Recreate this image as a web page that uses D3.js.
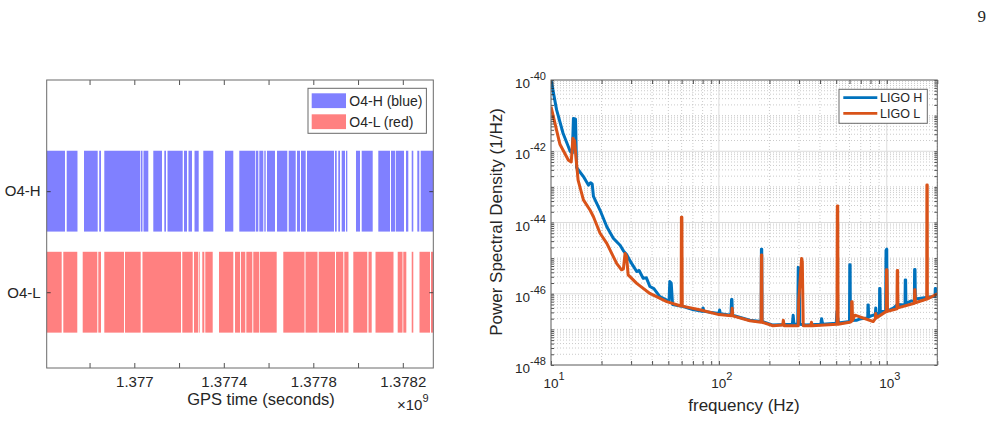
<!DOCTYPE html>
<html>
<head>
<meta charset="utf-8">
<script src="https://cdn.jsdelivr.net/npm/d3@7"></script>
<style>
body { margin: 0; background: #fff; }
svg text { font-family: "Liberation Sans", Arial, sans-serif; fill: #262626; }
</style>
</head>
<body>
<script>
var svgWidth = 997;
var svgHeight = 441;

// ---- left panel: observing segments (GPS seconds) ----
var detectors = ["O4-L", "O4-H"];
var detectorLevels = [1, 2];
var gpsRange = [1376608500, 1378336300];
var gpsTicks = [1376800000, 1377000000, 1377200000, 1377400000, 1377600000, 1377800000, 1378000000, 1378200000];
var gpsTickLabels = ["", "1.377", "", "1.3774", "", "1.3778", "", "1.3782"];

var segH = [
  [1376608500, 1376690300], [1376697900, 1376746100], [1376775200, 1376836400], [1376843100, 1376851200],
  [1376865900, 1377025500], [1377028600, 1377036600], [1377041100, 1377062600], [1377084900, 1377123800],
  [1377134100, 1377141700], [1377148400, 1377216300], [1377222100, 1377235500], [1377242200, 1377257900],
  [1377269100, 1377287800], [1377308400, 1377353100], [1377405400, 1377442500], [1377469300, 1377539400],
  [1377542600, 1377554200], [1377558700, 1377576500], [1377581000, 1377587300], [1377593100, 1377628800],
  [1377637800, 1377683800], [1377690100, 1377721300], [1377727200, 1377740600], [1377745000, 1377766000],
  [1377771800, 1377892500], [1377897000, 1377904600], [1377911700, 1377919300], [1377926900, 1377941700],
  [1377946200, 1377952000], [1377990800, 1378008700], [1378016300, 1378065500], [1378090500, 1378142800],
  [1378147300, 1378165100], [1378168300, 1378205400], [1378214300, 1378224600], [1378239800, 1378246900],
  [1378264800, 1378273800], [1378280000, 1378336300]
];
var segL = [
  [1376608500, 1376675500], [1376682700, 1376745200], [1376769400, 1376834600], [1376839100, 1376851200],
  [1376865900, 1376954000], [1376958400, 1377028600], [1377036600, 1377208700], [1377214500, 1377261000],
  [1377266800, 1377286000], [1377290500, 1377293600], [1377303900, 1377312900], [1377317300, 1377350400],
  [1377378600, 1377442500], [1377450100, 1377472400], [1377476400, 1377496100], [1377500600, 1377527400],
  [1377531800, 1377558700], [1377561800, 1377636400], [1377665900, 1377760700], [1377765100, 1377818800],
  [1377824100, 1377897000], [1377901500, 1377934100], [1377938600, 1377957300], [1377978800, 1378041300],
  [1378046700, 1378061000], [1378078000, 1378158400], [1378177200, 1378198700], [1378202200, 1378215700],
  [1378239800, 1378246900], [1378274600, 1378321600], [1378326000, 1378336300]
];

// ---- right panel: PSD, [frequency Hz, PSD 1/Hz] ----
var freqRange = [10, 2000];
var psdRange = [1e-48, 1e-40];
var freqTicks = [10, 100, 1000];
var psdTicks = [1e-40, 1e-42, 1e-44, 1e-46, 1e-48];

var psdH = [
  [10, 1.0e-40], [10.1, 7.9e-41], [10.8, 1.45e-41], [11.8, 3.2e-42], [13.0, 1.0e-42], [13.4, 8.9e-43],
  [13.6, 8.3e-42], [14.0, 7.9e-42], [14.2, 3.5e-43], [15.6, 1.95e-43], [16.7, 1.12e-43], [17.2, 1.3e-43],
  [17.6, 1.2e-43], [17.9, 5.4e-44], [19.6, 2.2e-44], [21.5, 7.6e-45], [23.5, 3.6e-45], [25.8, 2.3e-45],
  [27.0, 1.6e-45], [28.2, 1.26e-45], [30.2, 7.1e-46], [32.4, 4.2e-46], [33.5, 4.5e-46], [35.4, 2.7e-46],
  [37, 2.8e-46], [38.8, 1.6e-46], [41, 1.4e-46], [44.5, 8.3e-47], [48.9, 6.6e-47], [50.5, 6.3e-47],
  [51, 2.2e-46], [52, 2.0e-46], [53, 5.0e-47], [58, 4.6e-47], [61.4, 4.4e-47], [70, 3.6e-47],
  [79.5, 3.2e-47], [80.5, 4.0e-47], [81.5, 3.2e-47], [100, 2.8e-47], [101, 3.5e-47], [102, 2.75e-47],
  [118, 2.5e-47], [119, 6.9e-47], [119.6, 6.9e-47], [120.5, 2.5e-47], [153, 1.8e-47], [178.5, 1.66e-47],
  [179.2, 1.78e-45], [180, 1.78e-45], [180.8, 1.66e-47], [210, 1.32e-47], [270, 1.4e-47], [274, 1.4e-47],
  [277, 2.5e-47], [280, 1.4e-47], [295, 1.4e-47], [297, 5.5e-46], [301, 5.0e-46], [303, 1.4e-47],
  [330, 1.32e-47], [405, 1.4e-47], [409, 2.0e-47], [415, 1.4e-47], [500, 1.48e-47], [505, 3.2e-47],
  [515, 1.5e-47], [600, 1.66e-47], [602, 6.5e-46], [605, 6.5e-46], [607, 1.78e-47], [660, 1.8e-47],
  [700, 2.0e-47], [770, 2.1e-47], [773, 4.8e-47], [776, 4.8e-47], [780, 2.24e-47], [830, 2.5e-47],
  [855, 2.6e-47], [860, 4.0e-47], [865, 2.7e-47], [905, 2.8e-47], [907, 1.4e-46], [911, 1.4e-46],
  [915, 3.2e-47], [985, 3.2e-47], [990, 1.66e-45], [1000, 1.78e-45], [1005, 3.5e-47], [1035, 3.5e-47],
  [1100, 4.0e-47], [1158, 5.0e-47], [1285, 4.8e-47], [1289, 2.45e-46], [1295, 2.45e-46], [1300, 5.4e-47],
  [1400, 6.3e-47], [1460, 6.0e-47], [1465, 4.8e-46], [1473, 4.8e-46], [1480, 7.1e-47], [1720, 7.9e-47],
  [1940, 8.5e-47], [1946, 1.4e-46], [1954, 1.4e-46], [1960, 1.0e-46], [2000, 1.12e-46]
];
var psdL = [
  [10, 1.78e-41], [11.3, 1.58e-42], [12.7, 5.6e-43], [13.2, 5.0e-43], [13.5, 2.3e-42], [13.8, 2.0e-42],
  [14.5, 1.55e-43], [15.6, 4.3e-44], [17.1, 2.2e-44], [17.9, 1.45e-44], [19.6, 5.0e-45], [21.5, 2.6e-45],
  [24.6, 7.1e-46], [26.3, 4.7e-46], [27.0, 5.0e-46], [27.6, 1.35e-45], [28.2, 1.12e-45], [28.8, 3.4e-46],
  [32.4, 1.95e-46], [38.8, 1.02e-46], [48.9, 6.0e-47], [58.6, 4.6e-47], [59.6, 4.6e-47], [59.8, 1.4e-44],
  [60.2, 1.4e-44], [60.5, 4.5e-47], [78, 3.5e-47], [100, 2.6e-47], [119, 2.4e-47], [120, 3.9e-47],
  [121, 2.4e-47], [153, 1.74e-47], [178.5, 1.58e-47], [179.2, 1.23e-45], [180, 1.23e-45], [180.8, 1.58e-47],
  [210, 1.26e-47], [240, 1.32e-47], [242, 1.8e-47], [245, 1.26e-47], [297, 1.26e-47], [299, 6.3e-47],
  [311, 9.8e-46], [314, 7.9e-46], [318, 1.26e-47], [352, 1.26e-47], [356, 1.58e-47], [360, 1.26e-47],
  [505, 1.4e-47], [507.5, 2.9e-44], [510.5, 2.9e-44], [513, 1.4e-47], [600, 1.58e-47], [616, 1.66e-47],
  [618, 6.0e-47], [622, 6.0e-47], [625, 1.78e-47], [646, 2.5e-47], [830, 1.66e-47], [855, 2.0e-47],
  [860, 2.8e-47], [865, 2.1e-47], [994, 3.2e-47], [997, 4.7e-46], [1003, 4.7e-46], [1010, 3.2e-47],
  [1150, 3.8e-47], [1155, 4.5e-46], [1161, 4.5e-46], [1165, 4.0e-47], [1460, 5.4e-47], [1466, 1.3e-46],
  [1472, 1.3e-46], [1480, 5.6e-47], [1730, 7.1e-47], [1734, 1.12e-43], [1742, 1.12e-43], [1745, 7.1e-47],
  [2000, 1.0e-46]
];

var svg = d3.select("body")
  .append("svg")
  .attr("width", svgWidth)
  .attr("height", svgHeight);

// page number
svg.append("text")
  .attr("x", 986).attr("y", 22)
  .attr("text-anchor", "end")
  .style("font-family", "'Liberation Serif', 'DejaVu Serif', serif")
  .style("font-size", "17px")
  .text("9");

// ================= LEFT PANEL =================
var xGps = d3.scaleLinear().domain(gpsRange).range([46.7, 433.3]);
var yDet = d3.scaleLinear().domain([0.25, 3.1]).range([368, 80]);
var halfBar = 0.4;

var gLeft = svg.append("g");

gLeft.selectAll("rect.segH")
  .data(segH)
  .enter()
  .append("rect")
  .attr("x", function (d) { return xGps(d[0]); })
  .attr("width", function (d) { return xGps(d[1]) - xGps(d[0]); })
  .attr("y", yDet(detectorLevels[1] + halfBar))
  .attr("height", yDet(detectorLevels[1] - halfBar) - yDet(detectorLevels[1] + halfBar))
  .attr("fill", "#8080ff");

gLeft.selectAll("rect.segL")
  .data(segL)
  .enter()
  .append("rect")
  .attr("x", function (d) { return xGps(d[0]); })
  .attr("width", function (d) { return xGps(d[1]) - xGps(d[0]); })
  .attr("y", yDet(detectorLevels[0] + halfBar))
  .attr("height", yDet(detectorLevels[0] - halfBar) - yDet(detectorLevels[0] + halfBar))
  .attr("fill", "#ff8080");

function styleAxis(g, size) {
  g.select(".domain").remove();
  g.selectAll(".tick line").attr("stroke", "#262626").attr("stroke-width", 0.8);
  g.selectAll("text").style("font-size", size).attr("fill", "#262626");
}

gLeft.append("g")
  .attr("transform", "translate(0,368)")
  .call(d3.axisBottom(xGps).tickValues(gpsTicks).tickSize(-5).tickPadding(8)
    .tickFormat(function (d, i) { return gpsTickLabels[i]; }))
  .call(styleAxis, "15px");
gLeft.append("g")
  .attr("transform", "translate(0,80)")
  .call(d3.axisTop(xGps).tickValues(gpsTicks).tickSize(-5).tickFormat(""))
  .call(styleAxis, "15px");
gLeft.append("g")
  .attr("transform", "translate(46.7,0)")
  .call(d3.axisLeft(yDet).tickValues(detectorLevels).tickSize(-4).tickPadding(6)
    .tickFormat(function (d, i) { return detectors[i]; }))
  .call(styleAxis, "15px");
gLeft.append("g")
  .attr("transform", "translate(433.3,0)")
  .call(d3.axisRight(yDet).tickValues(detectorLevels).tickSize(-4).tickFormat(""))
  .call(styleAxis, "15px");

gLeft.append("rect")
  .attr("x", 46.7).attr("y", 80)
  .attr("width", 433.3 - 46.7).attr("height", 288)
  .attr("fill", "none").attr("stroke", "#6a6a6a").attr("stroke-width", 1);

gLeft.append("text")
  .attr("x", 261).attr("y", 405)
  .attr("text-anchor", "middle")
  .style("font-size", "16.5px")
  .text("GPS time (seconds)");

var expText = gLeft.append("text")
  .attr("x", 397).attr("y", 410)
  .style("font-size", "15px");
expText.append("tspan").text("\u00d710");
expText.append("tspan").attr("dy", -8).style("font-size", "11px").text("9");

// legend
var legL = gLeft.append("g");
legL.append("rect")
  .attr("x", 308).attr("y", 88.3).attr("width", 118.4).attr("height", 45)
  .attr("fill", "#fff").attr("stroke", "#6a6a6a").attr("stroke-width", 1);
var legItems = [{ label: "O4-H (blue)", color: "#8080ff" }, { label: "O4-L (red)", color: "#ff8080" }];
legL.selectAll("rect.sw")
  .data(legItems)
  .enter()
  .append("rect")
  .attr("x", 311.7)
  .attr("y", function (d, i) { return 93.3 + i * 21; })
  .attr("width", 34.3).attr("height", 14.8)
  .attr("fill", function (d) { return d.color; });
legL.selectAll("text.lab")
  .data(legItems)
  .enter()
  .append("text")
  .attr("x", 349.3)
  .attr("y", function (d, i) { return 105.5 + i * 21; })
  .style("font-size", "14px")
  .text(function (d) { return d.label; });

// ================= RIGHT PANEL =================
var xF = d3.scaleLog().domain(freqRange).range([551, 937.3]);
var yP = d3.scaleLog().domain(psdRange).range([365, 80]);
var gRight = svg.append("g");

function isMajorY(v) { var e = Math.round(Math.log10(v)); return Math.abs(v / Math.pow(10, e) - 1) < 1e-6 && e % 2 === 0; }
function isMajorX(v) { var e = Math.round(Math.log10(v)); return Math.abs(v / Math.pow(10, e) - 1) < 1e-6; }

var xGrid = xF.ticks();
var yGrid = yP.ticks();

gRight.selectAll("line.xminor")
  .data(xGrid.filter(function (d) { return !isMajorX(d); }))
  .enter()
  .append("line")
  .attr("x1", function (d) { return xF(d); }).attr("x2", function (d) { return xF(d); })
  .attr("y1", 80).attr("y2", 365)
  .attr("stroke", "#bdbdbd").attr("stroke-width", 0.8).attr("stroke-dasharray", "1,2");
gRight.selectAll("line.yminor")
  .data(yGrid.filter(function (d) { return !isMajorY(d); }))
  .enter()
  .append("line")
  .attr("y1", function (d) { return yP(d); }).attr("y2", function (d) { return yP(d); })
  .attr("x1", 551).attr("x2", 937.3)
  .attr("stroke", "#bdbdbd").attr("stroke-width", 0.8).attr("stroke-dasharray", "1,2");
gRight.selectAll("line.xmajor")
  .data(freqTicks)
  .enter()
  .append("line")
  .attr("x1", function (d) { return xF(d); }).attr("x2", function (d) { return xF(d); })
  .attr("y1", 80).attr("y2", 365)
  .attr("stroke", "#dcdcdc").attr("stroke-width", 1);
gRight.selectAll("line.ymajor")
  .data(psdTicks)
  .enter()
  .append("line")
  .attr("y1", function (d) { return yP(d); }).attr("y2", function (d) { return yP(d); })
  .attr("x1", 551).attr("x2", 937.3)
  .attr("stroke", "#dcdcdc").attr("stroke-width", 1);

svg.append("clipPath").attr("id", "clipPsd")
  .append("rect").attr("x", 551).attr("y", 80).attr("width", 937.3 - 551).attr("height", 285);

var psdLine = d3.line()
  .x(function (d) { return xF(d[0]); })
  .y(function (d) { return yP(d[1]); });

gRight.append("path")
  .datum(psdH)
  .attr("clip-path", "url(#clipPsd)")
  .attr("d", psdLine)
  .attr("fill", "none").attr("stroke", "#0072BD").attr("stroke-width", 3)
  .attr("stroke-linejoin", "round");
gRight.append("path")
  .datum(psdL)
  .attr("clip-path", "url(#clipPsd)")
  .attr("d", psdLine)
  .attr("fill", "none").attr("stroke", "#D95319").attr("stroke-width", 3)
  .attr("stroke-linejoin", "round");

// ticks (inward, all four sides)
gRight.append("g").attr("transform", "translate(0,365)")
  .call(d3.axisBottom(xF).tickValues(xGrid).tickSize(-4).tickFormat(""))
  .call(styleAxis, "13px");
gRight.append("g").attr("transform", "translate(0,80)")
  .call(d3.axisTop(xF).tickValues(xGrid).tickSize(-4).tickFormat(""))
  .call(styleAxis, "13px");
gRight.append("g").attr("transform", "translate(551,0)")
  .call(d3.axisLeft(yP).tickValues(yGrid).tickSize(-3).tickFormat(""))
  .call(styleAxis, "13px");
gRight.append("g").attr("transform", "translate(937.3,0)")
  .call(d3.axisRight(yP).tickValues(yGrid).tickSize(-3).tickFormat(""))
  .call(styleAxis, "13px");

gRight.append("rect")
  .attr("x", 551).attr("y", 80)
  .attr("width", 937.3 - 551).attr("height", 285)
  .attr("fill", "none").attr("stroke", "#6a6a6a").attr("stroke-width", 1);

// tick labels with superscripts
var yLab = gRight.selectAll("text.ylab")
  .data(psdTicks)
  .enter()
  .append("text")
  .attr("x", 546)
  .attr("y", function (d) { return yP(d) + 8; })
  .attr("text-anchor", "end")
  .style("font-size", "13.5px");
yLab.append("tspan").text("10");
yLab.append("tspan").attr("dy", -8).style("font-size", "11px")
  .text(function (d) { return String(Math.round(Math.log10(d))); });

var xLab = gRight.selectAll("text.xlab")
  .data(freqTicks)
  .enter()
  .append("text")
  .attr("x", function (d) { return xF(d) + 3; })
  .attr("y", 388)
  .attr("text-anchor", "middle")
  .style("font-size", "13.5px");
xLab.append("tspan").text("10");
xLab.append("tspan").attr("dy", -8).style("font-size", "11px")
  .text(function (d) { return String(Math.round(Math.log10(d))); });

gRight.append("text")
  .attr("x", 744).attr("y", 411)
  .attr("text-anchor", "middle")
  .style("font-size", "17px")
  .text("frequency (Hz)");
gRight.append("text")
  .attr("transform", "translate(502,222) rotate(-90)")
  .attr("text-anchor", "middle")
  .style("font-size", "17px")
  .text("Power Spectral Density (1/Hz)");

// legend
var legR = gRight.append("g");
legR.append("rect")
  .attr("x", 839).attr("y", 89.3).attr("width", 88.3).attr("height", 34)
  .attr("fill", "#fff").attr("stroke", "#6a6a6a").attr("stroke-width", 1);
var psdItems = [{ label: "LIGO H", color: "#0072BD" }, { label: "LIGO L", color: "#D95319" }];
legR.selectAll("line.lg")
  .data(psdItems)
  .enter()
  .append("line")
  .attr("x1", 843.3).attr("x2", 877.3)
  .attr("y1", function (d, i) { return 97.7 + i * 15.6; })
  .attr("y2", function (d, i) { return 97.7 + i * 15.6; })
  .attr("stroke", function (d) { return d.color; }).attr("stroke-width", 2.8);
legR.selectAll("text.lg")
  .data(psdItems)
  .enter()
  .append("text")
  .attr("x", 880)
  .attr("y", function (d, i) { return 102.2 + i * 15.6; })
  .style("font-size", "12.5px")
  .text(function (d) { return d.label; });
</script>
</body>
</html>
